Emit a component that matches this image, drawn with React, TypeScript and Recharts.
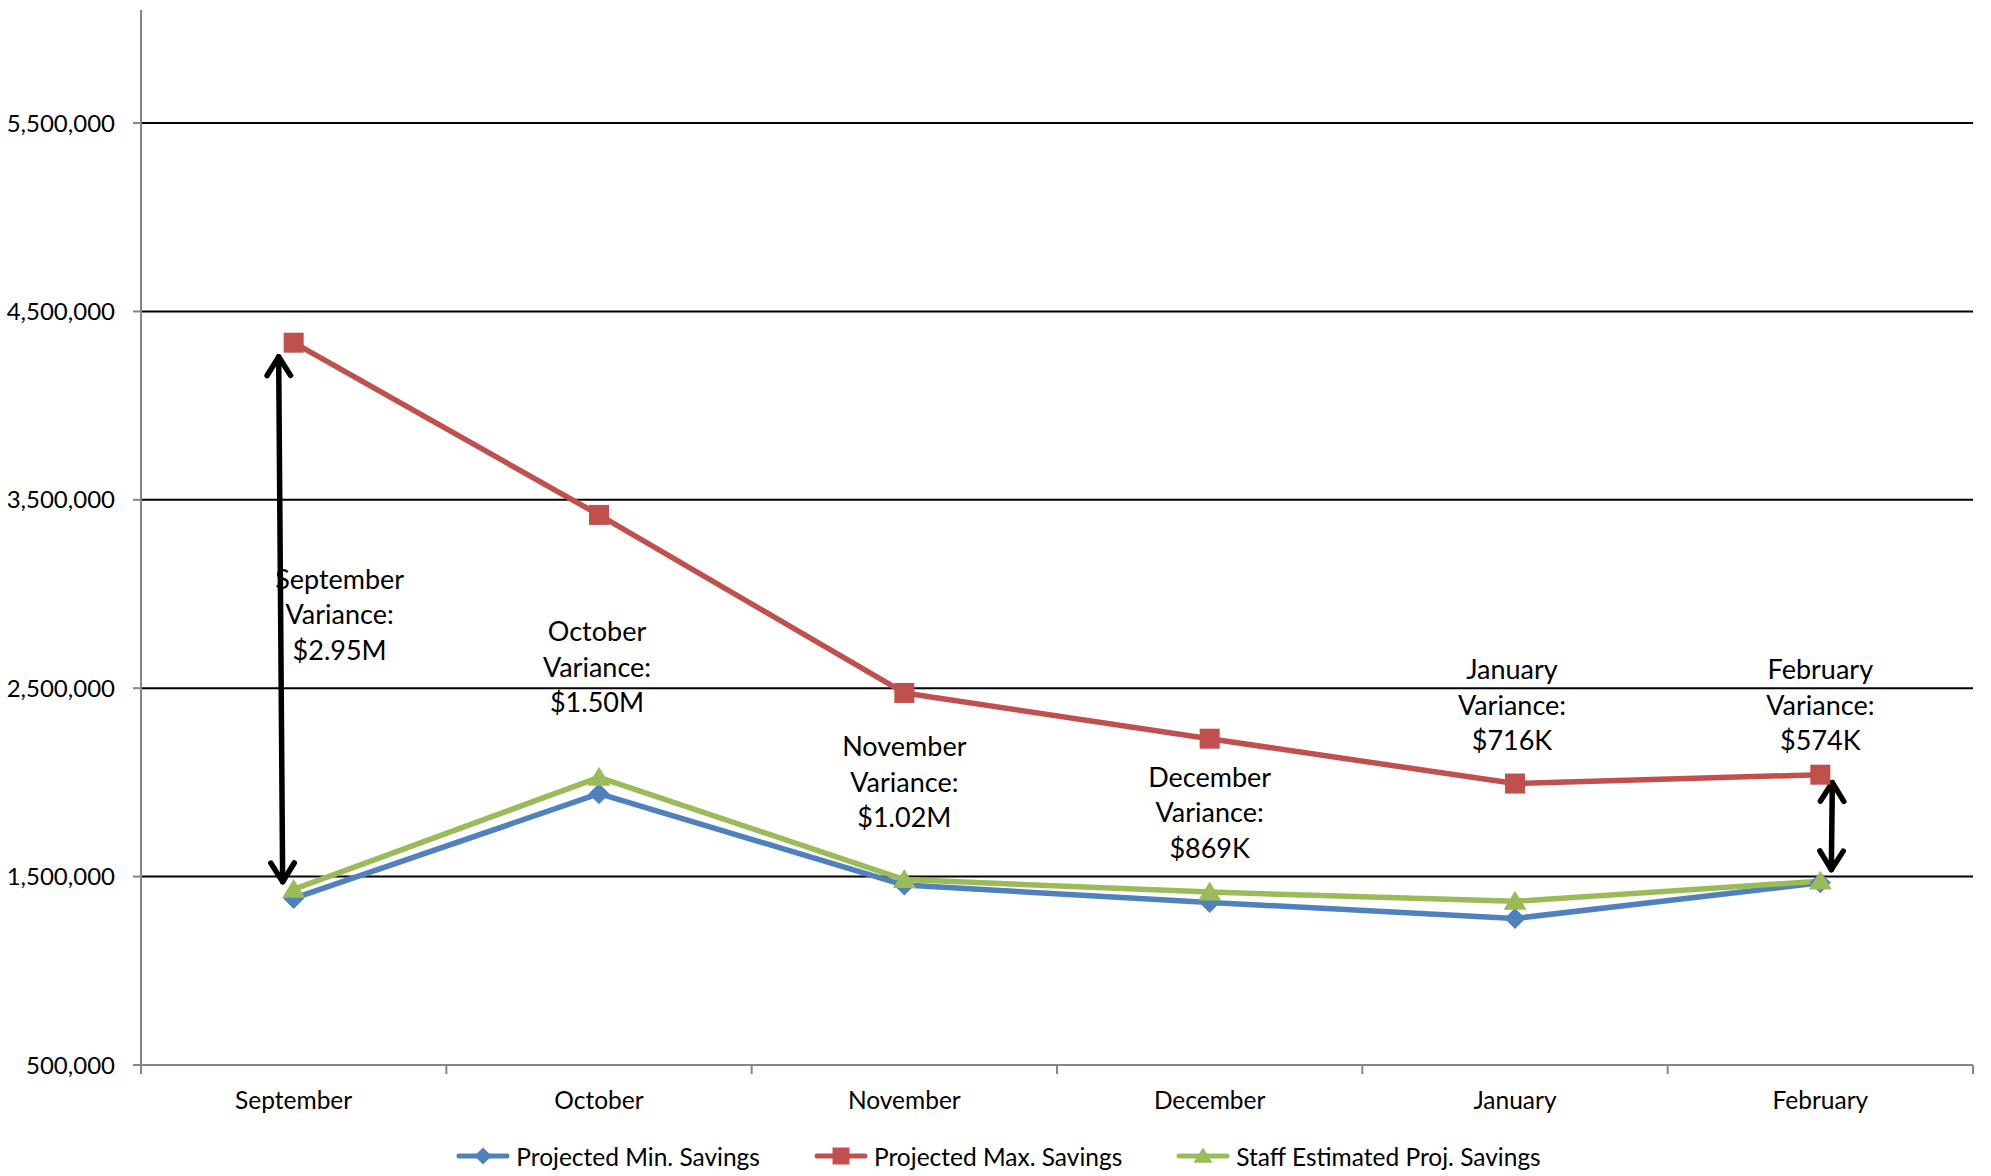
import React from 'react';
import { LineChart, Line, XAxis, YAxis, CartesianGrid, Legend, ReferenceLine, ReferenceDot } from 'recharts';

const months = ['September', 'October', 'November', 'December', 'January', 'February'];
const minSavings = [1384000, 1940000, 1455000, 1363000, 1278000, 1467000];
const maxSavings = [4334000, 3420000, 2475000, 2232000, 1994000, 2041000];
const staffSavings = [1432000, 2027000, 1484000, 1418000, 1369000, 1476000];
const yTicks = [500000, 1500000, 2500000, 3500000, 4500000, 5500000];
const yDomain = [500000, 6100000];
const varianceLabels = ['$2.95M', '$1.50M', '$1.02M', '$869K', '$716K', '$574K'];

// where each variance note sits (value of its middle line) and how far it is nudged sideways
const noteY = [2890000, 2610000, 2000000, 1840000, 2410000, 2410000];
const noteDx = [46, -2, 0, 0, -3, 0];

// double-headed arrows between the max and min lines
const arrowMonths = ['September', 'February'];
const arrowTop = [4259000, 1999000];
const arrowBottom = [1473000, 1537000];
const arrowDx = [[-15, -11], [12, 11]];

const BLUE = '#4F81BD';
const RED = '#C0504D';
const GREEN = '#9BBB59';
const AXIS = '#868686';
const FONT = 'Lato, "Open Sans", sans-serif';
const LINE_W = 5.5;

const data = months.map((m, i) => ({
  month: m,
  min: minSavings[i],
  max: maxSavings[i],
  staff: staffSavings[i],
}));

const diamond = (cx: number, cy: number, color: string, s = 10.5) => (
  <path d={`M${cx},${cy - s}L${cx + s},${cy}L${cx},${cy + s}L${cx - s},${cy}Z`} fill={color} />
);
const square = (cx: number, cy: number, color: string, s = 10) => (
  <rect x={cx - s} y={cy - s} width={s * 2} height={s * 2} fill={color} />
);
const triangle = (cx: number, cy: number, color: string, s = 10.5) => (
  <path d={`M${cx},${cy - s}L${cx + s + 1},${cy + s * 0.8}L${cx - s - 1},${cy + s * 0.8}Z`} fill={color} />
);

const MinDot = (p: any) => <g key={`min-${p.index}`}>{diamond(p.cx, p.cy, BLUE)}</g>;
const MaxDot = (p: any) => <g key={`max-${p.index}`}>{square(p.cx, p.cy, RED)}</g>;
const StaffDot = (p: any) => <g key={`staff-${p.index}`}>{triangle(p.cx, p.cy, GREEN)}</g>;

const TICK_MARGIN = 27;

// month label plus tick marks on the category boundaries
const MonthTick = (props: any) => {
  const { x, y, payload, index, visibleTicksCount, width } = props;
  const half = payload?.offset && payload.offset > 4 ? payload.offset : (width || 1832) / (visibleTicksCount || 6) / 2;
  const axisY = y - TICK_MARGIN;
  return (
    <g>
      <line x1={x - half} x2={x - half} y1={axisY} y2={axisY + 9} stroke={AXIS} strokeWidth={2} />
      {index === visibleTicksCount - 1 && (
        <line x1={x + half} x2={x + half} y1={axisY} y2={axisY + 9} stroke={AXIS} strokeWidth={2} />
      )}
      <text x={x} y={y} dy="0.71em" textAnchor="middle" fill="#000" fontSize={24.5} fontFamily={FONT}>
        {payload.value}
      </text>
    </g>
  );
};

// horizontal gridlines only at the labelled ticks above the x axis
const gridRows = ({ yAxis, offset }: any) => {
  const rows = yTicks.slice(1);
  if (yAxis && typeof yAxis.scale === 'function') return rows.map((v) => yAxis.scale(v));
  const [lo, hi] = yDomain;
  return rows.map((v) => offset.top + (offset.height * (hi - v)) / (hi - lo));
};

const NoteText = ({ cx, cy, lines }: { cx: number; cy: number; lines: string[] }) => (
  <text x={cx} y={cy} textAnchor="middle" fill="#000" fontSize={27} fontFamily={FONT}>
    {lines.map((t, i) => (
      <tspan key={i} x={cx} y={cy + (i - 1) * 35.5} dy="0.35em">
        {t}
      </tspan>
    ))}
  </text>
);

const chevron = (tx: number, ty: number, ux: number, uy: number) => {
  // ux, uy points from the tip back along the shaft
  const len = 22;
  const spread = 0.56;
  const ax = tx + len * (ux * Math.cos(spread) - uy * Math.sin(spread));
  const ay = ty + len * (uy * Math.cos(spread) + ux * Math.sin(spread));
  const bx = tx + len * (ux * Math.cos(-spread) - uy * Math.sin(-spread));
  const by = ty + len * (uy * Math.cos(-spread) + ux * Math.sin(-spread));
  return `M${ax},${ay}L${tx},${ty}L${bx},${by}`;
};

const DoubleArrow = ({ x1, y1, x2, y2 }: { x1: number; y1: number; x2: number; y2: number }) => {
  const dx = x2 - x1;
  const dy = y2 - y1;
  const l = Math.hypot(dx, dy) || 1;
  const ux = dx / l;
  const uy = dy / l;
  return (
    <g stroke="#000" strokeWidth={5.5} fill="none" strokeLinecap="round" strokeLinejoin="round">
      <line x1={x1} y1={y1} x2={x2} y2={y2} />
      <path d={chevron(x1, y1, ux, uy)} />
      <path d={chevron(x2, y2, -ux, -uy)} />
    </g>
  );
};

const legendItems = [
  { label: 'Projected Min. Savings', color: BLUE, marker: diamond },
  { label: 'Projected Max. Savings', color: RED, marker: square },
  { label: 'Staff Estimated Proj. Savings', color: GREEN, marker: triangle },
];

const LegendRow = () => (
  <div
    style={{
      display: 'flex',
      justifyContent: 'center',
      alignItems: 'center',
      height: 40,
      gap: 54,
      paddingLeft: 24,
      fontFamily: FONT,
      fontSize: 24.5,
      color: '#000',
    }}
  >
    {legendItems.map((it) => (
      <div key={it.label} style={{ display: 'flex', alignItems: 'center' }}>
        <svg width={54} height={24}>
          <line x1={3} x2={51} y1={12} y2={12} stroke={it.color} strokeWidth={5} strokeLinecap="round" />
          {it.marker(27, 12, it.color, 8.5)}
        </svg>
        <span style={{ marginLeft: 6 }}>{it.label}</span>
      </div>
    ))}
  </div>
);

const App = () => (
  <div style={{ position: 'absolute', left: 0, top: 0, width: 1991, height: 1176, background: '#fff' }}>
    <LineChart width={1991} height={1176} data={data} margin={{ top: 10, right: 18, bottom: 0, left: 0 }}>
      <CartesianGrid
        horizontal
        vertical={false}
        stroke="#000"
        strokeWidth={2}
        horizontalCoordinatesGenerator={gridRows}
      />
      <XAxis
        dataKey="month"
        scale="band"
        interval={0}
        height={71}
        tickSize={0}
        tickMargin={TICK_MARGIN}
        tickLine={false}
        axisLine={{ stroke: AXIS, strokeWidth: 2 }}
        tick={<MonthTick />}
      />
      <YAxis
        width={141}
        domain={yDomain}
        ticks={yTicks}
        interval={0}
        tickSize={8}
        tickMargin={18}
        tickLine={{ stroke: AXIS, strokeWidth: 2 }}
        axisLine={{ stroke: AXIS, strokeWidth: 2 }}
        tick={{ fill: '#000', fontSize: 24, fontFamily: FONT }}
        tickFormatter={(v: number) => v.toLocaleString('en-US')}
      />
      <Legend verticalAlign="bottom" height={40} content={() => <LegendRow />} />
      <Line
        dataKey="min"
        name="Projected Min. Savings"
        stroke={BLUE}
        strokeWidth={LINE_W}
        strokeLinejoin="round"
        dot={MinDot}
        activeDot={false}
        isAnimationActive={false}
      />
      <Line
        dataKey="max"
        name="Projected Max. Savings"
        stroke={RED}
        strokeWidth={LINE_W}
        strokeLinejoin="round"
        dot={MaxDot}
        activeDot={false}
        isAnimationActive={false}
      />
      <Line
        dataKey="staff"
        name="Staff Estimated Proj. Savings"
        stroke={GREEN}
        strokeWidth={LINE_W}
        strokeLinejoin="round"
        dot={StaffDot}
        activeDot={false}
        isAnimationActive={false}
      />
      {arrowMonths.map((m, i) => (
        <ReferenceLine
          key={`arrow-${m}`}
          segment={[
            { x: m, y: arrowTop[i] },
            { x: m, y: arrowBottom[i] },
          ]}
          ifOverflow="visible"
          shape={(p: any) => (
            <DoubleArrow x1={p.x1 + arrowDx[i][0]} y1={p.y1} x2={p.x2 + arrowDx[i][1]} y2={p.y2} />
          )}
        />
      ))}
      {months.map((m, i) => (
        <ReferenceDot
          key={`note-${m}`}
          x={m}
          y={noteY[i]}
          r={0}
          ifOverflow="visible"
          shape={(p: any) => <NoteText cx={p.cx + noteDx[i]} cy={p.cy} lines={[m, 'Variance:', varianceLabels[i]]} />}
        />
      ))}
    </LineChart>
  </div>
);

export default App;
